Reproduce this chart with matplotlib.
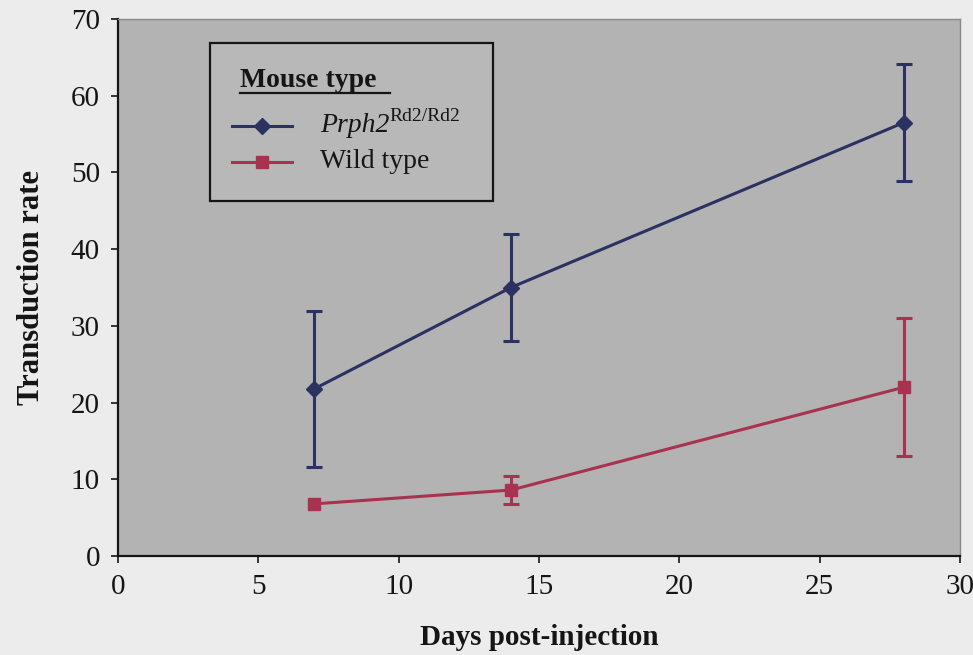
import matplotlib
matplotlib.use("Agg")
import matplotlib.pyplot as plt
from matplotlib.patches import Rectangle
from matplotlib.lines import Line2D

plt.rcParams["font.family"] = ["Liberation Serif", "DejaVu Serif"]

# Transduction rate over time for each mouse type
days = [7, 14, 28]
prph2_mean = [21.8, 35.0, 56.5]
prph2_err = [10.2, 7.0, 7.6]
wt_mean = [6.8, 8.6, 22.0]
wt_err = [0.0, 1.8, 9.0]

x_ticks = [0, 5, 10, 15, 20, 25, 30]
y_ticks = [0, 10, 20, 30, 40, 50, 60, 70]

blue = "#2b3160"
red = "#a8324f"
ink = "#151515"

fig = plt.figure(figsize=(9.73, 6.55), dpi=100, facecolor="#ececec")
ax = fig.add_axes([0.1213, 0.1511, 0.8653, 0.8199])
ax.set_facecolor("#b3b3b3")


def draw_series(x, y, err, color, marker):
    ax.plot(x, y, color=color, lw=2.2, marker=marker, ms=8, zorder=3)
    keep = [i for i, e in enumerate(err) if e > 0]
    ax.errorbar([x[i] for i in keep], [y[i] for i in keep],
                yerr=[err[i] for i in keep], fmt="none", ecolor=color,
                elinewidth=2.2, capsize=6, capthick=2.2, zorder=3)


draw_series(days, prph2_mean, prph2_err, blue, "D")
draw_series(days, wt_mean, wt_err, red, "s")

ax.set_xlim(0, 30)
ax.set_ylim(0, 70)
ax.set_xticks(x_ticks)
ax.set_yticks(y_ticks)
ax.tick_params(axis="both", direction="out", length=5, width=1.2,
               labelsize=21, colors=ink, pad=8)

for side in ("left", "bottom"):
    ax.spines[side].set_color(ink)
    ax.spines[side].set_linewidth(1.6)
for side in ("top", "right"):
    ax.spines[side].set_color("#8a8a8a")
    ax.spines[side].set_linewidth(1.0)

ax.set_xlabel("Days post-injection", fontsize=21, fontweight="bold",
              color=ink, labelpad=17)
ax.set_ylabel("Transduction rate", fontsize=22, fontweight="bold",
              color=ink, labelpad=18)

# Boxed key with an underlined heading
tr = ax.transAxes
ax.add_patch(Rectangle((0.109, 0.661), 0.336, 0.294, transform=tr,
                       facecolor="#b8b8b8", edgecolor=ink, lw=1.6, zorder=4))
ax.text(0.145, 0.885, "Mouse type", transform=tr, fontsize=20,
        fontweight="bold", color=ink, va="center", ha="left", zorder=5)
ax.add_line(Line2D([0.145, 0.323], [0.862, 0.862], transform=tr,
                   color=ink, lw=1.6, zorder=5))
ax.add_line(Line2D([0.135, 0.171, 0.207], [0.800, 0.800, 0.800], transform=tr,
                   color=blue, lw=2.2, marker="D", ms=8, markevery=[1], zorder=5))
ax.add_line(Line2D([0.135, 0.171, 0.207], [0.733, 0.733, 0.733], transform=tr,
                   color=red, lw=2.2, marker="s", ms=8, markevery=[1], zorder=5))
name = ax.text(0.240, 0.790, "Prph2", transform=tr, fontsize=20, style="italic",
               color=ink, va="baseline", ha="left", zorder=5)
ax.annotate("Rd2/Rd2", xy=(1.0, 0.68), xycoords=name, fontsize=14,
            color=ink, va="baseline", ha="left", zorder=5)
ax.text(0.240, 0.735, "Wild type", transform=tr, fontsize=20,
        color=ink, va="center", ha="left", zorder=5)

fig.savefig("out.png", dpi=100, facecolor=fig.get_facecolor())
